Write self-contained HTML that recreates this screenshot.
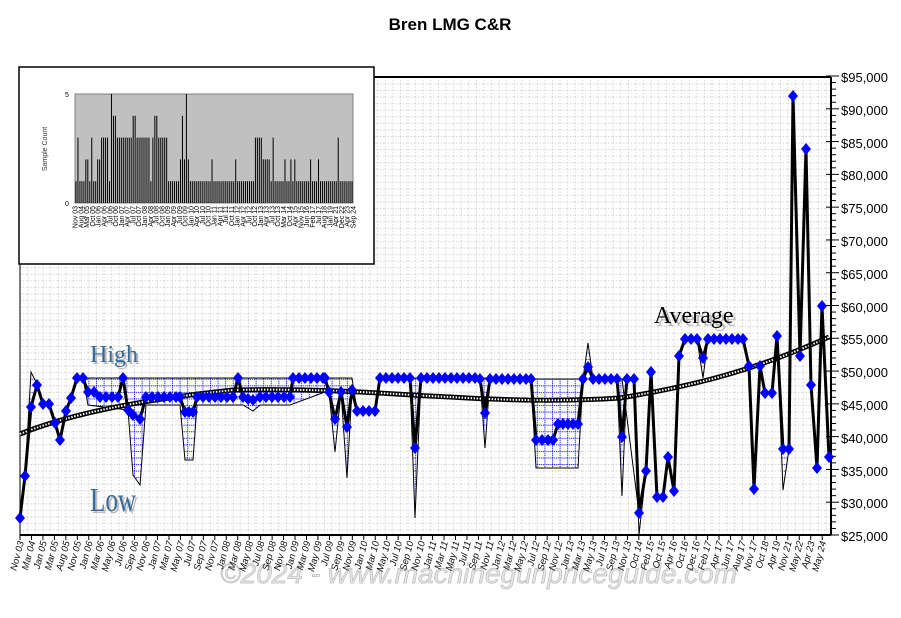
<!DOCTYPE html>
<html><head><meta charset="utf-8"><style>
body{margin:0;background:#fff;width:901px;height:613px;overflow:hidden;font-family:"Liberation Sans",sans-serif}
</style></head><body>
<svg width="901" height="613" viewBox="0 0 901 613" xmlns="http://www.w3.org/2000/svg">
<defs>
<pattern id="grid" x="20" y="77" width="7.6" height="6.56" patternUnits="userSpaceOnUse">
<line x1="0" y1="0.5" x2="7.6" y2="0.5" stroke="#c8c8c8" stroke-width="1" stroke-dasharray="1,2"/>
<line x1="0.5" y1="0" x2="0.5" y2="6.56" stroke="#c8c8c8" stroke-width="1" stroke-dasharray="1,2"/>
</pattern>
<pattern id="bgrid" x="20" y="77" width="7.6" height="6.56" patternUnits="userSpaceOnUse">
<rect width="7.6" height="6.56" fill="#fff"/>
<line x1="0" y1="0.5" x2="7.6" y2="0.5" stroke="#00f" stroke-width="1" stroke-dasharray="1,1"/>
<line x1="0.5" y1="0" x2="0.5" y2="6.56" stroke="#00f" stroke-width="1" stroke-dasharray="1,1"/>
</pattern>
</defs>
<text x="450" y="30" font-size="17" font-weight="bold" text-anchor="middle">Bren LMG C&amp;R</text>
<rect x="20" y="77" width="811" height="458" fill="url(#grid)"/>
<line x1="20" y1="77" x2="831" y2="77" stroke="#000" stroke-width="2"/>
<line x1="20" y1="535" x2="831" y2="535" stroke="#000" stroke-width="2"/>
<line x1="20" y1="77" x2="20" y2="535" stroke="#000" stroke-width="1"/>
<line x1="831" y1="77" x2="831" y2="535" stroke="#000" stroke-width="2"/>
<g id="ticks" stroke="#000" stroke-width="1"></g>
<g font-size="13" fill="#000" font-family="Liberation Sans,sans-serif">
<text x="841" y="82">$95,000</text><text x="841" y="115">$90,000</text><text x="841" y="148">$85,000</text><text x="841" y="180">$80,000</text><text x="841" y="213">$75,000</text><text x="841" y="246">$70,000</text><text x="841" y="279">$65,000</text><text x="841" y="312">$60,000</text><text x="841" y="344">$55,000</text><text x="841" y="377">$50,000</text><text x="841" y="410">$45,000</text><text x="841" y="443">$40,000</text><text x="841" y="476">$35,000</text><text x="841" y="508">$30,000</text><text x="841" y="541">$25,000</text>
</g>
<polygon fill="url(#bgrid)" stroke="none" points="20,518 25,476 31,372 37,384 43,404 49,404 55,423 60,440 66,411 71,398 77,378 238,378 243,378 290,378 352,378 357,411 375,411 380,378 410,378 415,378 421,378 480,378 485,378 490,379 531,379 536,379 578,379 583,379 588,343 593,379 617,379 622,379 627,379 634,379 639,513 646,471 651,372 657,497 663,497 668,457 674,491 679,356 685,339 697,339 703,358 708,339 743,339 749,366 754,489 760,366 765,393 772,393 777,336 783,449 789,449 793,96 800,356 806,149 811,385 817,468 822,306 829,457 829,457 822,306 817,468 811,385 806,149 800,356 793,96 789,449 783,490 777,336 772,393 765,393 760,366 754,489 749,366 743,339 708,339 703,378 697,339 685,339 679,356 674,491 668,457 663,497 657,497 651,372 646,471 639,535 634,379 627,379 622,496 617,379 593,379 588,367 583,379 578,468 536,468 531,379 490,379 485,448 480,379 421,379 415,518 410,379 380,379 375,411 357,411 352,390 347,478 341,392 335,452 329,392 325,392 290,405 260,405 253,411 243,405 197,405 193,460 185,460 180,405 146,405 140,485 133,475 128,410 88,405 83,378 77,378 71,398 66,411 60,440 55,423 49,404 43,404 37,384 31,407 25,476 20,518"/>
<polyline fill="none" stroke="#000" stroke-width="1" points="20,518 25,476 31,372 37,384 43,404 49,404 55,423 60,440 66,411 71,398 77,378 238,378 243,378 290,378 352,378 357,411 375,411 380,378 421,378 480,378 485,378 531,379 536,379 578,379 583,379 588,343 593,379 617,379 622,379 639,513 646,471 651,372 657,497 663,497 668,457 674,491 679,356 685,339 697,339 703,358 708,339 743,339 749,366 754,489 760,366 765,393 772,393 777,336 783,449 789,449"/>
<polyline fill="none" stroke="#000" stroke-width="1" points="20,518 25,476 31,407 37,384 43,404 49,404 55,423 60,440 66,411 71,398 77,378 83,378 88,405 128,410 133,475 140,485 146,405 180,405 185,460 193,460 197,405 243,405 253,411 260,405 290,405 325,392 329,392 335,452 341,392 347,478 352,390 357,411 375,411 380,379 410,379 415,518 421,379 480,379 485,448 490,379 531,379 536,468 578,468 583,379 588,367 593,379 617,379 622,496 627,379 634,379 639,535 646,471 651,372 657,497 663,497 668,457 674,491 679,356 685,339 697,339 703,378 708,339 743,339 749,366 754,489 760,366 765,393 772,393 777,336 783,490 789,449"/>
<path d="M20,434 C60,418 120,402 233,390 C333,388 400,395 450,397 C500,400 560,402 620,398 C700,385 760,368 829,337" fill="none" stroke="#000" stroke-width="5"/>
<path d="M20,434 C60,418 120,402 233,390 C333,388 400,395 450,397 C500,400 560,402 620,398 C700,385 760,368 829,337" fill="none" stroke="#fff" stroke-width="2" stroke-dasharray="1.5,1.5"/>
<polyline id="main" fill="none" stroke="#000" stroke-width="3" stroke-linejoin="round" points="20,518 25,476 31,407 37,385 43,404 49,404 55,423 60,440 66,411 71,398 77,378 83,378 88,392 94,392 100,397 106,397 112,397 118,397 123,378 128,410 133,415 140,419 146,397 152,397 158,397 164,397 170,397 176,397 180,397 185,412 189,412 193,412 197,397 203,397 209,397 215,397 221,397 227,397 233,397 238,378 243,397 248,399 253,400 260,397 266,397 272,397 278,397 284,397 290,397 293,378 299,378 305,378 311,378 317,378 323,378 325,378 329,392 335,419 341,392 347,427 352,390 357,411 363,411 369,411 375,411 380,378 386,378 392,378 398,378 404,378 410,378 415,448 421,378 427,378 433,378 439,378 445,378 451,378 457,378 463,378 469,378 475,378 480,379 485,413 490,379 496,379 502,379 508,379 514,379 520,379 526,379 531,379 536,440 542,440 548,440 553,440 558,424 563,424 568,424 573,424 578,424 583,379 588,367 593,379 599,379 605,379 611,379 617,379 622,437 627,379 634,379 639,513 646,471 651,372 657,497 663,497 668,457 674,491 679,356 685,339 691,339 697,339 703,358 708,339 714,339 720,339 726,339 732,339 738,339 743,339 749,366 754,489 760,366 765,393 772,393 777,336 783,449 789,449 793,96 800,356 806,149 811,385 817,468 822,306 829,457"/>
<g id="dia" fill="#00f"></g>
<g font-family="Liberation Serif,serif" font-size="24">
<text x="92" y="364" fill="#bbb">High</text><text x="90" y="362" fill="#3a6a9a">High</text>
<text x="92" y="513" fill="#bbb" font-size="34" textLength="46" lengthAdjust="spacingAndGlyphs">Low</text><text x="90" y="511" fill="#3a6a9a" font-size="34" textLength="46" lengthAdjust="spacingAndGlyphs">Low</text>
<text x="657" y="326" fill="#bbb">Average</text><text x="654" y="323" fill="#000">Average</text>
</g>
<text x="220" y="583" font-size="28" font-style="italic" fill="#e6e6e6" stroke="#bbb" stroke-width="0.7">©2024 - www.machinegunpriceguide.com</text>
<g id="xl" font-size="9.5" fill="#111" font-style="italic"></g>
<rect x="19" y="67" width="355" height="197" fill="#fff" stroke="#000" stroke-width="1.5"/>
<rect x="75" y="94" width="278" height="109" fill="#c0c0c0" stroke="#808080"/>
<g id="bars" stroke="#000" stroke-width="1"></g>
<text x="65" y="97" font-size="7">5</text><text x="65" y="206" font-size="7">0</text>
<text transform="translate(47,149) rotate(-90)" font-size="7" text-anchor="middle" fill="#333">Sample Count</text>
<g id="il" font-size="7" fill="#000"></g>
</svg>
<script>
var NS="http://www.w3.org/2000/svg";
function el(t,a,p,txt){var e=document.createElementNS(NS,t);for(var k in a)e.setAttribute(k,a[k]);if(txt)e.textContent=txt;document.getElementById(p).appendChild(e);return e;}
for(var i=0;i<=70;i++){var y=535-i*6.557;el("line",{x1:831,y1:y,x2:i%5==0?839:836,y2:y},"ticks");if(i%5==0)el("line",{x1:826,y1:y,x2:831,y2:y},"ticks");}
var pts=document.getElementById("main").getAttribute("points").trim().split(/\s+/);
pts.forEach(function(p){var c=p.split(",");var x=+c[0],y=+c[1];el("polygon",{points:(x)+","+(y-6)+" "+(x+5)+","+y+" "+x+","+(y+6)+" "+(x-5)+","+y},"dia");});
var L="Nov 03,Mar 04,Jan 05,Mar 05,Aug 05,Nov 05,Jan 06,Mar 06,May 06,Jul 06,Sep 06,Nov 06,Jan 07,Mar 07,May 07,Jul 07,Sep 07,Nov 07,Jan 08,Mar 08,May 08,Jul 08,Sep 08,Nov 08,Jan 09,Mar 09,May 09,Jul 09,Sep 09,Nov 09,Jan 10,Mar 10,May 10,Jul 10,Sep 10,Nov 10,Jan 11,Mar 11,May 11,Jul 11,Sep 11,Nov 11,Jan 12,Mar 12,May 12,Jul 12,Sep 12,Nov 12,Jan 13,Mar 13,May 13,Jul 13,Sep 13,Nov 13,Oct 14,Feb 15,Oct 15,Apr 16,Oct 16,Dec 16,Feb 17,Apr 17,Jun 17,Aug 17,Nov 17,Oct 18,Apr 19,Nov 21,May 22,Apr 23,May 24".split(",");
L.forEach(function(s,i){var x=20+i*11.46;el("line",{x1:x,y1:535,x2:x,y2:540},"ticks");el("text",{transform:"translate("+(x+4)+",542) rotate(-75)","text-anchor":"end"},"xl",s);});
var b=[1,3,1,1,1,2,2,1,3,1,1,2,2,3,3,3,3,1,5,4,4,3,3,3,3,3,3,3,3,4,4,3,3,3,3,3,3,3,1,3,4,4,3,3,3,3,3,1,1,1,1,1,1,2,4,2,5,2,1,1,1,1,1,1,1,1,1,1,1,2,1,1,1,1,1,1,1,1,1,1,1,2,1,1,1,1,1,1,1,1,1,3,3,3,3,2,2,2,2,1,3,1,1,1,1,1,2,1,1,2,1,2,1,1,1,1,1,1,1,2,1,1,1,2,1,1,1,1,1,1,1,1,1,3,1,1,1,1,1,1,1];
var w=278/b.length;b.forEach(function(v,i){var x=75+(i+0.5)*w;el("line",{x1:x,y1:203,x2:x,y2:203-v*21.8},"bars");});
var il="Nov 03,Aug 04,Mar 05,Oct 05,Jan 06,Apr 06,Jul 06,Oct 06,Jan 07,Apr 07,Jul 07,Oct 07,Jan 08,Apr 08,Jul 08,Oct 08,Jan 09,Apr 09,Jul 09,Oct 09,Jan 10,Apr 10,Jul 10,Oct 10,Jan 11,Apr 11,Jul 11,Oct 11,Jan 12,Apr 12,Jul 12,Oct 12,Jan 13,Apr 13,Jul 13,Oct 13,Mar 14,Oct 14,Apr 15,Nov 15,Jun 16,Feb 17,Jul 17,Aug 18,Jan 19,Apr 21,Dec 22,Apr 23,Sep 24".split(",");
il.forEach(function(s,i){var x=75+i*(278/(il.length-1));el("text",{transform:"translate("+(x+2.5)+",206) rotate(-90)","text-anchor":"end"},"il",s);});
</script>
</body></html>
